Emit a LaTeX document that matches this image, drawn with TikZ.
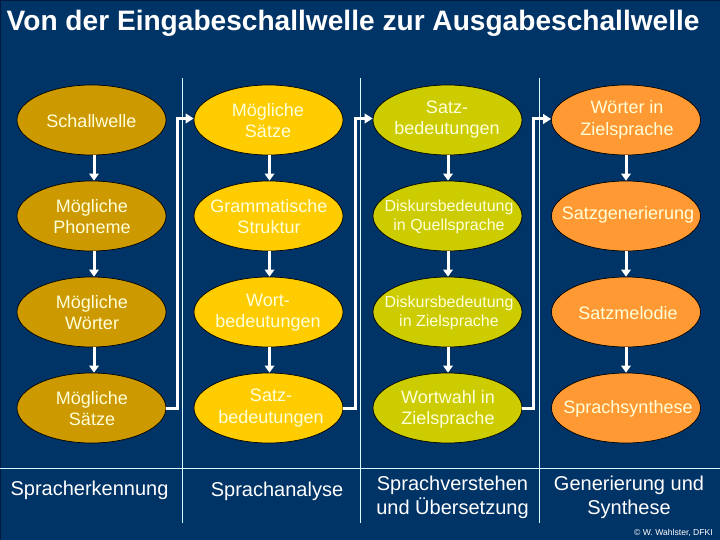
\documentclass[tikz,border=0pt]{standalone}
\usepackage{fontspec}
\setmainfont{Liberation Sans}
\usetikzlibrary{shapes.geometric,arrows.meta}
\definecolor{bgblue}{HTML}{003366}
\definecolor{edgeblue}{HTML}{001A40}
\definecolor{colA}{HTML}{CC9900}
\definecolor{colB}{HTML}{FFCC00}
\definecolor{colC}{HTML}{CCCC00}
\definecolor{colD}{HTML}{FF9933}
\definecolor{creamtext}{HTML}{FFFFD9}
\definecolor{rulecol}{HTML}{D9FFFF}
\tikzset{
  stage/.style={ellipse,draw=black,line width=0.7pt,minimum width=149pt,minimum height=70pt,inner sep=0pt},
  stageA/.style={stage,fill=colA},
  stageB/.style={stage,fill=colB},
  stageC/.style={stage,fill=colC},
  stageD/.style={stage,fill=colD},
  inner text/.style={text=creamtext,align=center,inner sep=0pt,font=\fontsize{18}{21.5}\selectfont},
  small text/.style={inner text,font=\fontsize{16}{19.2}\selectfont},
  flow/.style={draw=white,line width=3pt,-{Triangle[width=9.5pt,length=7pt]}},
  route/.style={draw=white,line width=3pt,-{Triangle[width=9.5pt,length=8pt]}},
  divider/.style={draw=rulecol,line width=0.9pt},
  caption/.style={text=white,align=center,font=\fontsize{20}{24}\selectfont,inner sep=0pt},
}
\begin{document}
\begin{tikzpicture}[x=1pt,y=-1pt]
\useasboundingbox (0,0) rectangle (720,540);
\fill[bgblue] (0,0) rectangle (720,540);
\fill[edgeblue] (0,0) rectangle (720,1.3);
\fill[edgeblue] (0,0) rectangle (1,540);
\node[anchor=base west,inner sep=0pt,text=white,font=\fontsize{28.1}{32}\bfseries\selectfont] (title) at (6.5,30.5) {Von der Eingabeschallwelle zur Ausgabeschallwelle};

% dividers
\coordinate (v1t) at (182.5,78); \coordinate (v1b) at (182.5,523);
\coordinate (v2t) at (360.5,78); \coordinate (v2b) at (360.5,523);
\coordinate (v3t) at (539.7,78); \coordinate (v3b) at (539.7,523);
\coordinate (hl) at (0,468); \coordinate (hr) at (720,468);
\draw[divider] (v1t) -- (v1b);
\draw[divider] (v2t) -- (v2b);
\draw[divider] (v3t) -- (v3b);
\draw[divider] (hl) -- (hr);

% column 1
\node[stageA] (a1) at (91.5,120) {};
\node[stageA] (a2) at (91.5,216) {};
\node[stageA] (a3) at (91.5,312) {};
\node[stageA] (a4) at (91.5,408) {};
% column 2
\node[stageB] (b1) at (268.5,120) {};
\node[stageB] (b2) at (268.5,216) {};
\node[stageB] (b3) at (268.5,312) {};
\node[stageB] (b4) at (268.5,408) {};
% column 3
\node[stageC] (c1) at (447.5,120) {};
\node[stageC] (c2) at (447.5,216) {};
\node[stageC] (c3) at (447.5,312) {};
\node[stageC] (c4) at (447.5,408) {};
% column 4
\node[stageD] (d1) at (626,120) {};
\node[stageD] (d2) at (626,216) {};
\node[stageD] (d3) at (626,312) {};
\node[stageD] (d4) at (626,408) {};

% texts inside the ellipses
\node[inner text] (ta1) at (91.5,121) {Schallwelle};
\node[inner text] (ta2) at (92,216.5) {Mögliche\\Phoneme};
\node[inner text] (ta3) at (92,312.5) {Mögliche\\Wörter};
\node[inner text] (ta4) at (92,408.5) {Mögliche\\Sätze};
\node[inner text] (tb1) at (268,120.5) {Mögliche\\Sätze};
\node[inner text] (tb2) at (269,216.5) {Grammatische\\Struktur};
\node[inner text] (tb3) at (268,312.5) {Wort-\\bedeutungen};
\node[inner text] (tb4) at (271,408) {Satz-\\bedeutungen};
\node[inner text] (tc1) at (447,119.5) {Satz-\\bedeutungen};
\node[small text] (tc2) at (449,216.5) {Diskursbedeutung\\in Quellsprache};
\node[small text] (tc3) at (449,312.5) {Diskursbedeutung\\in Zielsprache};
\node[inner text] (tc4) at (448,409.5) {Wortwahl in\\Zielsprache};
\node[inner text] (td1) at (627,120) {Wörter in\\Zielsprache};
\node[inner text] (td2) at (628,215) {Satzgenerierung};
\node[inner text] (td3) at (628,313) {Satzmelodie};
\node[inner text] (td4) at (628,408.5) {Sprachsynthese};

% vertical flows
\foreach \p/\q in {a1/a2,a2/a3,a3/a4}
  \draw[flow] ([xshift=2.5pt]\p.south) -- ([xshift=2.5pt]\q.north);
\foreach \p/\q in {b1/b2,b2/b3,b3/b4}
  \draw[flow] ([xshift=1pt]\p.south) -- ([xshift=1pt]\q.north);
\foreach \p/\q in {c1/c2,c2/c3,c3/c4}
  \draw[flow] ([xshift=0.5pt]\p.south) -- ([xshift=0.5pt]\q.north);
\foreach \p/\q in {d1/d2,d2/d3,d3/d4}
  \draw[flow] (\p.south) -- (\q.north);

% column-to-column routes
\draw[route] (a4.east) -- ++(11.5,0) |- ([yshift=1.5pt]b1.west);
\draw[route] (b4.east) -- ++(12,0) |- ([yshift=1.5pt]c1.west);
\draw[route] (c4.east) -- ++(11.3,0) |- ([yshift=1pt]d1.west);

% captions
\node[caption] (capA) at (89.5,490) {Spracherkennung};
\node[caption] (capB) at (277,491) {Sprachanalyse};
\node[caption] (capC) at (452.5,497) {Sprachverstehen\\und Übersetzung};
\node[caption] (capD) at (629,497) {Generierung und\\Synthese};
\node[anchor=base east,inner sep=0pt,text=white,font=\fontsize{8.6}{10}\selectfont] (copy) at (713,535) {© W. Wahlster, DFKI};
\end{tikzpicture}
\end{document}
